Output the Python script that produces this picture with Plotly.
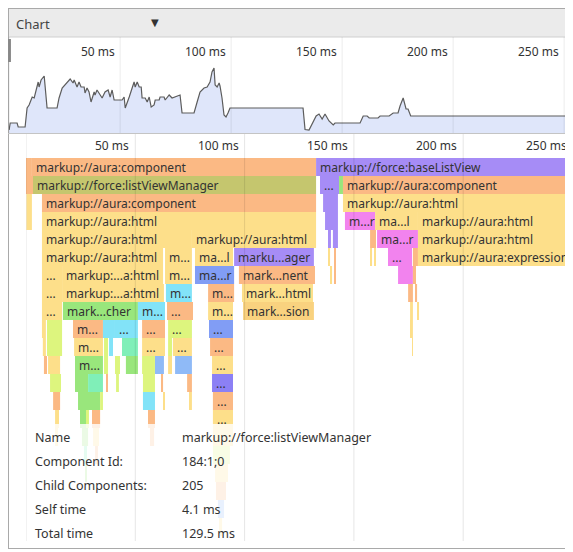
import plotly.graph_objects as go

# ---- data -------------------------------------------------------------
# overview strip: time (ms) and stack height
overview_ms = [0, 0.5, 3.6, 4.1, 7.2, 8.1, 9.0, 10.4, 11.3, 11.7, 13.1, 13.5, 14.4, 15.8, 16.2, 17.1,
               21.6, 22.5, 23.9, 26.1, 27.5, 28.8, 29.3, 30.6, 31.5, 32.4, 33.8, 34.2, 35.1, 36.0,
               36.9, 38.3, 38.7, 39.6, 40.5, 41.9, 43.2, 44.6, 45.5, 46.4, 47.3, 50.9, 51.8, 52.3,
               54.1, 55.4, 56.3, 56.8, 57.7, 58.6, 59.5, 59.9, 61.3, 62.2, 63.1, 64.0, 65.3, 65.8,
               67.6, 68.0, 69.8, 70.3, 72.1, 73.4, 74.8, 76.6, 77.0, 77.9, 83.3, 84.7, 86.0, 87.8,
               89.2, 90.5, 91.4, 92.3, 92.8, 93.7, 94.6, 95.0, 95.9, 96.8, 97.7, 98.6, 99.5, 132.4,
               133.3, 135.1, 136.8, 138.3, 139.6, 141.0, 142.3, 144.1, 146.0, 146.8, 158.1, 159.5,
               161.3, 162.2, 166.2, 167.1, 171.2, 173.0, 175.2, 176.1, 177.5, 178.8, 179.7, 180.9, 256]
overview_depth = [3, 10, 10, 6, 6, 25, 28, 36, 35, 38, 51, 46, 53, 57, 45, 25,
                  25, 35, 45, 51, 54, 50, 53, 46, 51, 46, 46, 40, 45, 41,
                  31, 41, 38, 43, 40, 35, 41, 43, 36, 43, 33, 33, 36, 25,
                  36, 45, 51, 46, 51, 46, 46, 35, 35, 31, 36, 26, 28, 33,
                  33, 36, 36, 33, 38, 35, 36, 38, 38, 20, 20, 31, 41, 45,
                  46, 51, 61, 65, 48, 46, 50, 47, 35, 18, 16, 20, 25, 25,
                  3.5, 3, 10, 17, 19, 14, 19, 12, 8, 10, 10, 17,
                  17, 15, 15, 17, 17, 20, 20, 27, 35, 24, 24, 17, 17]

grid_ms = [0, 50, 100, 150, 200, 250]
tick_ms = [50, 100, 150, 200, 250]

# flame chart, one list per depth: (start ms, end ms, colour group, label)
row_00 = [(0, 2.7, "orange", ""), (2.7, 132.7, "orange", "markup://aura:component"),
          (132.7, 256, "purple", "markup://force:baseListView")]
row_01 = [(0, 3.2, "orange", ""), (3.2, 132.7, "olive", "markup://force:listViewManager"),
          (134.5, 143.2, "purple", "..."), (143.2, 145.0, "green", ""),
          (145.0, 256, "orange", "markup://aura:component")]
row_02 = [(0.2, 2.7, "yellow", ""), (7.3, 132.7, "orange", "markup://aura:component"),
          (135.9, 142.7, "purple", ""), (145.0, 256, "yellow", "markup://aura:html")]
row_03 = [(0.2, 2.7, "yellow", ""), (7.3, 132.7, "yellow", "markup://aura:html"),
          (136.8, 142.7, "purple", ""), (145.9, 159.7, "magenta", "m...r"),
          (159.7, 179.3, "yellow", "ma...l"), (179.3, 256, "yellow", "markup://aura:html")]
row_04 = [(7.3, 75.9, "yellow", "markup://aura:html"), (75.9, 132.7, "yellow", "markup://aura:html"),
          (138.6, 139.5, "purple", ""), (140.4, 142.7, "purple", ""), (157.4, 160.1, "orange", ""),
          (160.6, 179.3, "magenta", "ma...r"), (179.3, 256, "yellow", "markup://aura:html")]
row_05 = [(7.3, 62.7, "yellow", "markup://aura:html"), (63.6, 75.9, "yellow", "m..."),
          (77.3, 94.7, "yellow", "ma...l"), (95.2, 131.7, "purple", "marku...ager"),
          (138.2, 139.1, "yellow", ""), (140.9, 141.8, "orange", ""), (157.4, 158.3, "yellow", ""),
          (159.2, 160.1, "yellow", ""), (165.6, 176.6, "magenta", "..."), (177.0, 179.3, "orange", ""),
          (179.3, 249.0, "yellow", "markup://aura:expression")]
row_06 = [(7.3, 16.5, "yellow", "..."), (16.5, 62.7, "yellow", "markup:...a:html"),
          (63.6, 75.9, "yellow", "m..."), (77.3, 95.2, "blue", "ma...r"),
          (97.4, 132.2, "orange", "mark...nent"), (139.1, 140.0, "yellow", ""),
          (140.9, 141.8, "orange", ""), (170.2, 177.0, "magenta", ""), (177.0, 178.4, "orange", "")]
row_07 = [(7.3, 16.5, "yellow", "..."), (16.5, 63.1, "yellow", "markup:...a:html"),
          (64.0, 75.9, "cyan", "m..."), (83.3, 95.2, "orange", "m..."),
          (98.8, 131.3, "yellow", "mark...html"), (174.8, 177.0, "orange", ""), (178.0, 178.9, "orange", "")]
row_08 = [(7.3, 16.5, "yellow", "..."), (16.9, 51.2, "green", "mark...cher"),
          (51.2, 63.6, "cyan", "m..."), (64.5, 76.4, "orange", "..."), (83.3, 94.7, "yellow", "m..."),
          (99.3, 131.7, "amber", "mark...sion"), (175.7, 177.0, "yellow", ""), (178.9, 179.8, "yellow", "")]
row_09 = [(7.3, 9.1, "yellow", ""), (9.6, 16.5, "lime", ""), (21.5, 35.2, "orange", "m..."),
          (35.2, 40.7, "cyan", ""), (40.7, 51.2, "cyan", "..."), (53.1, 63.6, "orange", "..."),
          (65.0, 75.9, "lime", "..."), (83.7, 94.7, "blue", "..."), (176.1, 177.0, "yellow", "")]
row_10 = [(7.7, 9.1, "yellow", ""), (9.6, 16.5, "lime", ""), (22.0, 35.2, "yellow", "m..."),
          (35.7, 37.5, "lime", ""), (38.0, 39.8, "cyan", ""), (43.9, 51.2, "mint", ""),
          (53.1, 63.6, "yellow", "..."), (65.0, 66.8, "lime", ""), (67.2, 75.9, "yellow", "..."),
          (84.2, 94.7, "orange", "..."), (176.6, 177.0, "yellow", "")]
row_11 = [(8.2, 9.6, "orange", ""), (10.1, 15.6, "yellow", ""), (22.4, 35.2, "green", "m..."),
          (35.7, 37.5, "lime", ""), (40.7, 43.0, "lime", ""), (45.7, 51.2, "green", ""),
          (53.1, 59.0, "lime", ""), (59.0, 63.1, "lightblue", ""), (65.0, 66.8, "yellow", ""),
          (68.2, 75.9, "lightblue", ""), (85.1, 94.7, "yellow", "...")]
row_12 = [(11.0, 16.0, "lime", ""), (22.4, 28.4, "green", ""), (28.4, 35.2, "mint", ""),
          (36.6, 37.5, "orange", ""), (41.2, 42.5, "lime", ""), (53.5, 59.0, "lime", ""),
          (61.8, 62.7, "orange", ""), (73.7, 75.9, "orange", ""), (85.1, 94.7, "violet", "...")]
row_13 = [(12.4, 15.6, "orange", ""), (23.8, 33.9, "green", ""), (33.9, 35.2, "lime", ""),
          (53.5, 59.0, "cyan", ""), (62.7, 63.6, "yellow", ""), (75.0, 75.9, "yellow", ""),
          (85.5, 94.7, "orange", "...")]
row_14 = [(13.3, 15.1, "yellow", ""), (24.7, 27.9, "green", ""), (27.9, 28.8, "lime", ""),
          (30.2, 33.9, "orange", ""), (55.8, 59.0, "orange", ""), (85.5, 94.7, "yellow", "...")]
row_15 = [(13.7, 14.6, "yellow", ""), (25.6, 28.4, "green", ""), (30.7, 33.4, "yellow", ""),
          (56.7, 58.6, "orange", ""), (85.5, 94.7, "yellow", "")]
row_16 = [(26.5, 27.9, "mint", ""), (31.6, 32.9, "orange", ""), (85.5, 93.3, "lime", "")]
row_17 = [(27.0, 27.9, "green", ""), (86.5, 92.4, "yellow", "")]
row_18 = [(86.9, 91.5, "orange", "")]
row_19 = [(87.8, 90.6, "lightblue", "")]
row_20 = [(88.3, 89.7, "yellow", "")]

rows = [row_00, row_01, row_02, row_03, row_04, row_05, row_06, row_07, row_08, row_09, row_10,
        row_11, row_12, row_13, row_14, row_15, row_16, row_17, row_18, row_19, row_20]

detail_labels = ["Name", "Component Id:", "Child Components:", "Self time", "Total time"]
detail_values = ["markup://force:listViewManager", "184:1;0", "205", "4.1 ms", "129.5 ms"]

# ---- style ------------------------------------------------------------
# the page body keeps its 8px margin, so the figure is drawn 8px in from the window corner
PAGE = 8
W, H = 573 - PAGE, 552 - PAGE
FONT = "Noto Sans"
TEXT = "#333333"
PALETTE = {
    "orange": "#fbb984", "olive": "#c5c66e", "yellow": "#fddf8a", "amber": "#f9d27f",
    "purple": "#a68cf6", "violet": "#8c80f5", "magenta": "#f283ee", "blue": "#819df5",
    "lightblue": "#8fbaf7", "cyan": "#82e3f8", "green": "#99e67c", "lime": "#ddf57e",
    "mint": "#80efb8",
}


def px(x):
    # window pixel -> paper fraction
    return (x - PAGE) / W


def py(y):
    return 1 - (y - PAGE) / H


ROW_PX = 18
MAIN_TOP, MAIN_BOTTOM, ROW0_TOP = 134, 541, 158
y_top = -0.5 - (ROW0_TOP - MAIN_TOP) / ROW_PX
y_bottom = -0.5 + (MAIN_BOTTOM - ROW0_TOP) / ROW_PX

bar_y, bar_base, bar_len, bar_col = [], [], [], []
annotations = []
for depth, blocks in enumerate(rows):
    for t0, t1, group, label in blocks:
        bar_y.append(depth)
        bar_base.append(t0)
        bar_len.append(t1 - t0)
        bar_col.append(PALETTE[group])
        if label:
            annotations.append(dict(x=t0, y=depth, xref="x", yref="y", text=label,
                                    xanchor="left", yanchor="middle", xshift=2, showarrow=False,
                                    font=dict(family=FONT, size=12, color=TEXT)))

fig = go.Figure()

fig.add_trace(go.Bar(
    y=bar_y, x=bar_len, base=bar_base, orientation="h", width=1,
    marker=dict(color=bar_col, line=dict(width=0)),
    hoverinfo="skip", showlegend=False
))

fig.add_trace(go.Scatter(
    x=overview_ms, y=overview_depth, xaxis="x2", yaxis="y2",
    mode="lines", fill="tozeroy", fillcolor="#dfe6fa",
    line=dict(color="#5c5c5c", width=1.2), hoverinfo="skip", showlegend=False
))

shapes = [
    # header bar
    dict(type="rect", xref="paper", yref="paper", x0=px(8), x1=1, y0=py(37), y1=py(8),
         fillcolor="#ebebeb", line=dict(width=0), layer="below"),
    dict(type="line", xref="paper", yref="paper", x0=px(8), x1=1, y0=py(37), y1=py(37),
         line=dict(color="#cfcfcf", width=1)),
    dict(type="line", xref="paper", yref="paper", x0=px(8), x1=1, y0=py(8.5), y1=py(8.5),
         line=dict(color="#a9a9a9", width=1)),
    # frame
    dict(type="line", xref="paper", yref="paper", x0=px(8.5), x1=px(8.5), y0=py(548), y1=py(8),
         line=dict(color="#a9a9a9", width=1)),
    dict(type="line", xref="paper", yref="paper", x0=px(8), x1=1, y0=py(548.5), y1=py(548.5),
         line=dict(color="#a9a9a9", width=1)),
    # overview bottom edge and grip
    dict(type="line", xref="paper", yref="paper", x0=px(8), x1=1, y0=py(133.5), y1=py(133.5),
         line=dict(color="#c4c4c4", width=1)),
    dict(type="rect", xref="paper", yref="paper", x0=px(8), x1=px(11), y0=py(62), y1=py(39),
         fillcolor="#8e8e8e", line=dict(width=0)),
    # details popover veil
    dict(type="rect", xref="paper", yref="paper", x0=px(26), x1=1, y0=py(MAIN_BOTTOM), y1=py(424),
         fillcolor="rgba(255,255,255,0.8)", line=dict(width=0), layer="above"),
]
for t in grid_ms:
    shapes.append(dict(type="line", xref="x", yref="paper", x0=t, x1=t,
                       y0=py(MAIN_BOTTOM), y1=py(MAIN_TOP),
                       line=dict(color="rgba(0,0,0,0.10)", width=1), layer="above"))
    shapes.append(dict(type="line", xref="x2", yref="paper", x0=t, x1=t,
                       y0=py(133), y1=py(37),
                       line=dict(color="rgba(0,0,0,0.08)", width=1), layer="above"))

for t in tick_ms:
    annotations.append(dict(x=t, y=py(145), xref="x", yref="paper", text=f"{t} ms",
                            xanchor="right", yanchor="middle", xshift=-4, showarrow=False,
                            font=dict(family=FONT, size=12, color=TEXT)))
    annotations.append(dict(x=t, y=py(51), xref="x2", yref="paper", text=f"{t} ms",
                            xanchor="right", yanchor="middle", xshift=-3, showarrow=False,
                            font=dict(family=FONT, size=12, color=TEXT)))

annotations.append(dict(x=px(14), y=py(24), xref="paper", yref="paper", text="Chart",
                        xanchor="left", yanchor="middle", showarrow=False,
                        font=dict(family=FONT, size=13, color="#444444")))
annotations.append(dict(x=px(155), y=py(22), xref="paper", yref="paper", text="▼",
                        xanchor="center", yanchor="middle", showarrow=False,
                        font=dict(family="DejaVu Sans", size=10, color="#333333")))

for i, (lab, val) in enumerate(zip(detail_labels, detail_values)):
    yy = py(437 + 24 * i)
    annotations.append(dict(x=px(33), y=yy, xref="paper", yref="paper", text=lab,
                            xanchor="left", yanchor="middle", showarrow=False,
                            font=dict(family=FONT, size=12.5, color=TEXT)))
    annotations.append(dict(x=px(180), y=yy, xref="paper", yref="paper", text=val,
                            xanchor="left", yanchor="middle", showarrow=False,
                            font=dict(family=FONT, size=12.5, color=TEXT)))

hidden = dict(showgrid=False, zeroline=False, showticklabels=False, showline=False, ticks="",
              fixedrange=True)

fig.update_layout(
    width=W, height=H,
    margin=dict(l=0, r=0, t=0, b=0),
    paper_bgcolor="white", plot_bgcolor="rgba(0,0,0,0)",
    barmode="overlay",
    xaxis=dict(domain=[px(26), 1], range=[0, (573 - 26) / 2.186], **hidden),
    yaxis=dict(domain=[py(MAIN_BOTTOM), py(MAIN_TOP)], range=[y_bottom, y_top], **hidden),
    xaxis2=dict(domain=[px(8), 1], range=[-0.5, (573 - 8) / 2.22 - 0.5], anchor="y2", **hidden),
    yaxis2=dict(domain=[py(133), py(37)], range=[0, 96], anchor="x2", **hidden),
    shapes=shapes,
    annotations=annotations,
)

fig.write_html("out.html")
